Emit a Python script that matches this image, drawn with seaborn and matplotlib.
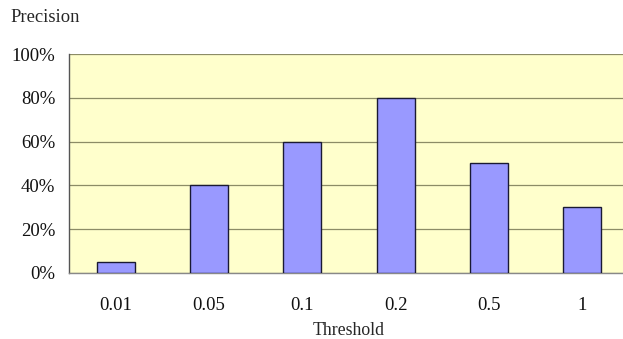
import matplotlib
matplotlib.use("Agg")
import matplotlib.pyplot as plt
import seaborn as sns
import pandas as pd
from matplotlib.ticker import FuncFormatter

thresholds = ["0.01", "0.05", "0.1", "0.2", "0.5", "1"]
precision = [5, 40, 60, 80, 50, 30]
y_ticks = [0, 20, 40, 60, 80, 100]

df = pd.DataFrame({"Threshold": thresholds, "Precision": precision})

sns.set_style("white")
plt.rcParams["font.family"] = ["Liberation Serif", "DejaVu Serif"]

fig = plt.figure(figsize=(6.23, 3.39), dpi=100)
ax = fig.add_axes([0.1108, 0.1947, 0.8988, 0.646])
ax.set_facecolor("#FFFFCC")

sns.barplot(data=df, x="Threshold", y="Precision", order=thresholds,
            color="#9999FF", saturation=1, width=0.41,
            edgecolor="#1a1a33", linewidth=1.0, ax=ax, zorder=3)

ax.set_ylim(0, 100)
ax.set_xlim(-0.5, len(thresholds) - 0.5)
ax.set_yticks(y_ticks)
ax.yaxis.set_major_formatter(FuncFormatter(lambda v, p: f"{int(v)}%"))
ax.grid(axis="y", color="#8c8c66", linewidth=0.9, zorder=1)
ax.set_axisbelow(True)

for side in ["top", "right"]:
    ax.spines[side].set_visible(False)
ax.spines["left"].set_color("#555555")
ax.spines["bottom"].set_color("#888888")
ax.spines["left"].set_linewidth(1.0)
ax.spines["bottom"].set_linewidth(1.0)

ax.tick_params(axis="both", length=0, labelsize=13.5, colors="#111111")
ax.tick_params(axis="y", pad=10)
ax.tick_params(axis="x", pad=17)

ax.set_xlabel("Threshold", fontsize=12.8, labelpad=6)
ax.set_ylabel("")
fig.text(0.016, 0.947, "Precision", fontsize=13.3, ha="left", va="center")

fig.savefig("out.png", dpi=100)
